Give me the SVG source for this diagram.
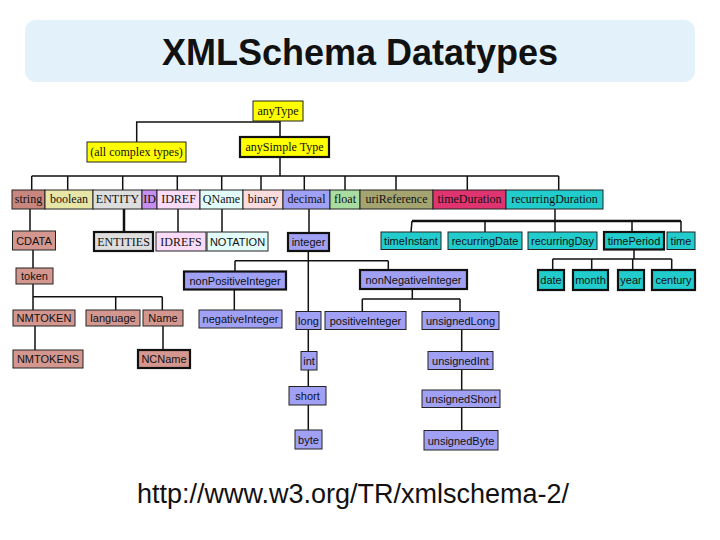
<svg xmlns="http://www.w3.org/2000/svg" width="720" height="540" viewBox="0 0 720 540">
<style>
.bn{stroke:#222;stroke-width:1}
.bk{stroke:#111;stroke-width:2.2}
.s{font-family:"Liberation Serif","Times New Roman",serif;font-size:12px;fill:#111;text-anchor:middle}
.a{font-family:"Liberation Sans",Arial,sans-serif;font-size:11px;fill:#111;text-anchor:middle}
.c{fill:none;stroke:#111;stroke-width:1.5}
.ck{fill:none;stroke:#111;stroke-width:2.5}
.y{fill:#ffff00}.ro{fill:#d4978f}.rs{fill:#c8867f}.bo{fill:#e8e6a6}.gr{fill:#dedede}.id{fill:#c58ef0}
.pk{fill:#fadcf8}.cy{fill:#e2fcfa}.bi{fill:#fcdcdc}.pe{fill:#a0a0f4}.fl{fill:#a8dca0}.ol{fill:#a4a470}
.td{fill:#e03470}.tq{fill:#22cccc}
</style>
<rect x="25" y="20" width="670" height="62" rx="11" fill="#e3f1fb"/>
<text x="360" y="65" font-family="Liberation Sans,Arial,sans-serif" font-size="36" font-weight="bold" text-anchor="middle" fill="#111">XMLSchema Datatypes</text>
<g id="connectors">
<path class="c" d="M136.7,142 V122 H280 M280,121 V137"/>
<path class="c" d="M280,157.5 V176 M31.7,176 H558.7 M31.7,176 V190 M67.7,176 V190 M122.7,176 V190 M177.3,176 V190 M221.7,176 V190 M261,176 V190 M304.3,176 V190 M345,176 V190 M396,176 V190 M467.3,176 V190 M558.7,176 V190"/>
<path class="c" d="M30,209 V231 M178,209 V232 M222,209 V232 M309,209 V233"/>
<path class="ck" d="M124,209 V232"/>
<path class="c" d="M555,209 V221"/>
<path class="ck" d="M412,221 H681"/>
<path class="c" d="M412,221 L411,232 M485,221 V232 M555,221 V232 M632,221 V232 M681,221 V232"/>
<path class="c" d="M634,249.5 V259 M552.7,259 H671.7 M552.7,259 V270 M591.7,259 V270 M632.7,259 V270 M671.7,259 V270"/>
<path class="c" d="M33,250 V268 M33,284 V296.7 H162.3 M33,296.7 V310 M115.7,296.7 V310 M162.3,296.7 V310"/>
<path class="c" d="M35,326 V350 M163,326 V350"/>
<path class="c" d="M308.3,251 V311.5 M235,260.7 H388.3 M235,260.7 V271.5 M388.3,260.7 V270"/>
<path class="c" d="M234.3,289.5 V310"/>
<path class="c" d="M412.3,289 V299 M362.3,299 H460 M362.3,299 V311.5 M460,299 V311.5"/>
<path class="c" d="M308.3,329.5 V351.5 M308.3,370 V386.5 M308.3,405 V430"/>
<path class="c" d="M461.7,329.5 V351.5 M461.7,369.5 V390 M461.7,407.5 V430.5"/>
</g>
<g id="n-anyType"><rect class="bn y" x="253" y="101" width="50" height="20"/><text class="s" x="278" y="115">anyType</text></g>
<g id="n-complex"><rect class="bn y" x="87" y="142" width="99" height="20"/><text class="s" x="136.5" y="156" font-size="11">(all complex types)</text></g>
<g id="n-anySimpleType"><rect class="bk y" x="240" y="137" width="89" height="20"/><text class="s" x="284.5" y="151">anySimple Type</text></g>

<g id="n-string"><rect class="bn rs" x="12" y="190" width="33" height="19"/><text class="s" x="28.5" y="203">string</text></g>
<g id="n-boolean"><rect class="bn bo" x="45" y="190" width="48" height="19"/><text class="s" x="69" y="203">boolean</text></g>
<g id="n-ENTITY"><rect class="bn gr" x="93" y="190" width="49" height="19"/><text class="s" x="117.5" y="203">ENTITY</text></g>
<g id="n-ID"><rect class="bn id" x="142" y="190" width="15" height="19"/><text class="s" x="149.5" y="203">ID</text></g>
<g id="n-IDREF"><rect class="bn pk" x="157" y="190" width="43" height="19"/><text class="s" x="178.5" y="203">IDREF</text></g>
<g id="n-QName"><rect class="bn cy" x="200" y="190" width="43" height="19"/><text class="s" x="221.5" y="203">QName</text></g>
<g id="n-binary"><rect class="bn bi" x="243" y="190" width="40" height="19"/><text class="s" x="263" y="203">binary</text></g>
<g id="n-decimal"><rect class="bn pe" x="283" y="190" width="47" height="19"/><text class="s" x="306.5" y="203">decimal</text></g>
<g id="n-float"><rect class="bn fl" x="330" y="190" width="30" height="19"/><text class="s" x="345" y="203">float</text></g>
<g id="n-uriReference"><rect class="bn ol" x="360" y="190" width="73" height="19"/><text class="s" x="396.5" y="203">uriReference</text></g>
<g id="n-timeDuration"><rect class="bn td" x="433" y="190" width="73" height="19"/><text class="s" x="469.5" y="203">timeDuration</text></g>
<g id="n-recurringDuration"><rect class="bn tq" x="506" y="190" width="97" height="19"/><text class="s" x="554.5" y="203">recurringDuration</text></g>

<g id="n-CDATA"><rect class="bn ro" x="12.5" y="231" width="43" height="19"/><text class="a" x="34" y="244.5">CDATA</text></g>
<g id="n-ENTITIES"><rect class="bk gr" x="94" y="232" width="59" height="19"/><text class="s" x="123.5" y="245.5">ENTITIES</text></g>
<g id="n-IDREFS"><rect class="bn pk" x="156" y="232" width="50" height="19"/><text class="s" x="181" y="245.5">IDREFS</text></g>
<g id="n-NOTATION"><rect class="bn cy" x="207" y="232" width="61" height="19"/><text class="a" x="237.5" y="245.5">NOTATION</text></g>
<g id="n-integer"><rect class="bk pe" x="288" y="233" width="41" height="18"/><text class="a" x="308.5" y="246">integer</text></g>
<g id="n-timeInstant"><rect class="bn tq" x="381" y="232" width="60" height="17.5"/><text class="a" x="411" y="245">timeInstant</text></g>
<g id="n-recurringDate"><rect class="bn tq" x="448" y="232" width="74" height="17.5"/><text class="a" x="485" y="245">recurringDate</text></g>
<g id="n-recurringDay"><rect class="bn tq" x="528" y="232" width="69" height="17.5"/><text class="a" x="562.5" y="245">recurringDay</text></g>
<g id="n-timePeriod"><rect class="bk tq" x="604" y="232" width="60" height="17.5"/><text class="a" x="634" y="245">timePeriod</text></g>
<g id="n-time"><rect class="bn tq" x="667" y="232" width="28" height="17.5"/><text class="a" x="681" y="245">time</text></g>

<g id="n-token"><rect class="bn ro" x="16" y="268" width="37" height="16"/><text class="a" x="34.5" y="280">token</text></g>
<g id="n-nonPositiveInteger"><rect class="bk pe" x="184" y="271.5" width="102" height="18"/><text class="a" x="235" y="284.5">nonPositiveInteger</text></g>
<g id="n-nonNegativeInteger"><rect class="bk pe" x="360" y="270" width="107" height="19"/><text class="a" x="413.5" y="283.5">nonNegativeInteger</text></g>
<g id="n-date"><rect class="bk tq" x="538" y="270" width="26" height="20"/><text class="a" x="551" y="284">date</text></g>
<g id="n-month"><rect class="bk tq" x="573" y="270" width="35" height="20"/><text class="a" x="590.5" y="284">month</text></g>
<g id="n-year"><rect class="bk tq" x="618" y="270" width="26" height="20"/><text class="a" x="631" y="284">year</text></g>
<g id="n-century"><rect class="bk tq" x="652" y="270" width="43" height="20"/><text class="a" x="673.5" y="284">century</text></g>

<g id="n-NMTOKEN"><rect class="bn ro" x="13" y="310" width="62" height="16"/><text class="a" x="44" y="322">NMTOKEN</text></g>
<g id="n-language"><rect class="bn ro" x="86" y="310" width="54" height="16"/><text class="a" x="113" y="322">language</text></g>
<g id="n-Name"><rect class="bn ro" x="143" y="310" width="40" height="16"/><text class="a" x="163" y="322">Name</text></g>
<g id="n-negativeInteger"><rect class="bn pe" x="199" y="310" width="83" height="18"/><text class="a" x="240.5" y="323">negativeInteger</text></g>
<g id="n-long"><rect class="bn pe" x="296" y="311.5" width="25" height="18"/><text class="a" x="308.5" y="324.5">long</text></g>
<g id="n-positiveInteger"><rect class="bn pe" x="325" y="311.5" width="81" height="18"/><text class="a" x="365.5" y="324.5">positiveInteger</text></g>
<g id="n-unsignedLong"><rect class="bn pe" x="422" y="311.5" width="77" height="18"/><text class="a" x="460.5" y="324.5">unsignedLong</text></g>

<g id="n-NMTOKENS"><rect class="bn ro" x="13" y="350" width="70" height="18"/><text class="a" x="48" y="363">NMTOKENS</text></g>
<g id="n-NCName"><rect class="bk ro" x="138" y="350" width="52" height="18"/><text class="a" x="164" y="363">NCName</text></g>
<g id="n-int"><rect class="bn pe" x="301" y="351.5" width="16" height="18.5"/><text class="a" x="309" y="364.5">int</text></g>
<g id="n-unsignedInt"><rect class="bn pe" x="428" y="351.5" width="65" height="18"/><text class="a" x="460.5" y="364.5">unsignedInt</text></g>
<g id="n-short"><rect class="bn pe" x="289" y="386.5" width="37" height="18.5"/><text class="a" x="307.5" y="399.5">short</text></g>
<g id="n-unsignedShort"><rect class="bn pe" x="422" y="390" width="78" height="17.5"/><text class="a" x="461" y="403">unsignedShort</text></g>
<g id="n-byte"><rect class="bn pe" x="295" y="430" width="27" height="19"/><text class="a" x="308.5" y="443.5">byte</text></g>
<g id="n-unsignedByte"><rect class="bn pe" x="424" y="430.5" width="74" height="19.5"/><text class="a" x="461" y="444.5">unsignedByte</text></g>

<text x="353" y="503" font-family="Liberation Sans,Arial,sans-serif" font-size="27" text-anchor="middle" fill="#111">http://www.w3.org/TR/xmlschema-2/</text>
</svg>
